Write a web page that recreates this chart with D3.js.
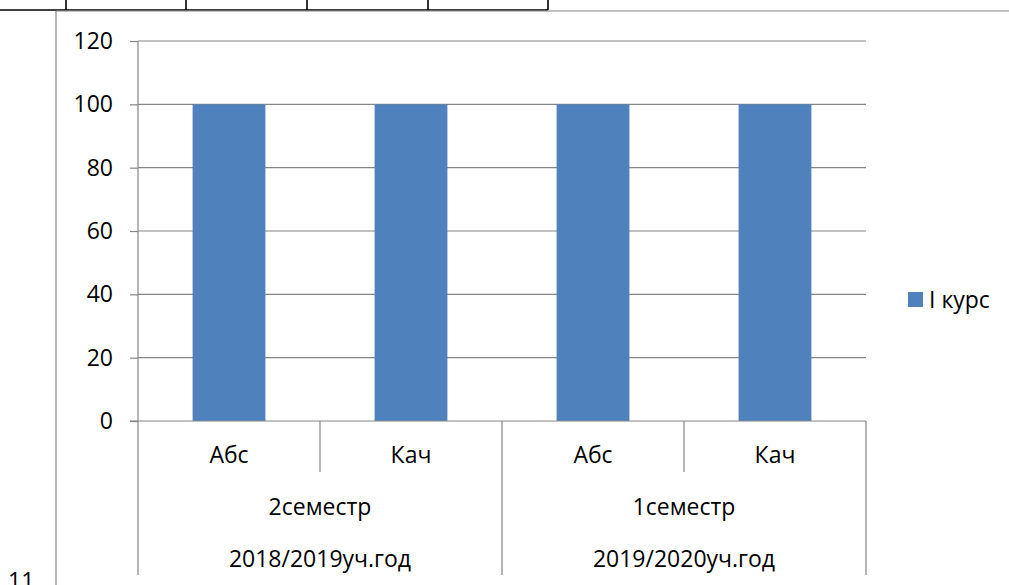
<!DOCTYPE html>
<html><head><meta charset="utf-8">
<script src="https://cdn.jsdelivr.net/npm/d3@7"></script>
<style>body{margin:0;background:#fff;} svg{display:block;} text{font-family:"Open Sans",sans-serif;fill:#000;}</style>
</head><body><svg id="c" width="1009" height="585"></svg>
<script>
const categories = ["Абс", "Кач", "Абс", "Кач"];
const semesters = ["2семестр", "1семестр"];
const years = ["2018/2019уч.год", "2019/2020уч.год"];
const seriesName = "I курс";
const values = [100, 100, 100, 100];
const yTicks = [0, 20, 40, 60, 80, 100, 120];

(function () {
const svg = d3.select("#c");
const grey = "#868686";
const fs = 23;

// page fragments: table above and chart frame
const tableCols = [66, 186, 307, 428, 548];
svg.append("line").attr("x1", 0).attr("x2", 548).attr("y1", 10).attr("y2", 10).attr("stroke", "#000").attr("stroke-width", 1.6);
tableCols.forEach(x => svg.append("line").attr("x1", x).attr("x2", x).attr("y1", 0).attr("y2", 10).attr("stroke", "#000").attr("stroke-width", 1.6));
svg.append("line").attr("x1", 56).attr("x2", 1009).attr("y1", 11).attr("y2", 11).attr("stroke", grey).attr("stroke-width", 1.2);
svg.append("line").attr("x1", 56).attr("x2", 56).attr("y1", 11).attr("y2", 585).attr("stroke", grey).attr("stroke-width", 1.2);
svg.append("text").attr("x", 8).attr("y", 589).attr("font-size", fs).text("11");

const pLeft = 138, pRight = 866, pTop = 41, pBottom = 421;
const x = d3.scaleBand().domain(d3.range(categories.length)).range([pLeft, pRight]).paddingInner(0.6).paddingOuter(0.3);
const y = d3.scaleLinear().domain([0, 120]).range([pBottom, pTop]);

// gridlines
svg.append("g").selectAll("line").data(yTicks.filter(d => d > 0)).join("line")
  .attr("x1", pLeft).attr("x2", pRight).attr("y1", d => y(d)).attr("y2", d => y(d))
  .attr("stroke", grey).attr("stroke-width", 1.2);

// y axis
const ya = svg.append("g").attr("transform", `translate(${pLeft},0)`)
  .call(d3.axisLeft(y).tickValues(yTicks).tickSize(8).tickPadding(17).tickFormat(d3.format("d")));
ya.select(".domain").attr("stroke", grey).attr("stroke-width", 1.2).attr("d", `M0,${pTop}V${pBottom}`);
ya.selectAll(".tick line").attr("stroke", grey).attr("stroke-width", 1.2);
ya.selectAll(".tick text").attr("font-size", fs).attr("font-family", "Open Sans").attr("fill", "#000");

// bars
svg.append("g").selectAll("rect").data(values).join("rect")
  .attr("x", (d, i) => x(i)).attr("width", x.bandwidth())
  .attr("y", d => y(d)).attr("height", d => y(0) - y(d))
  .attr("fill", "#4f81bd");

// x axis baseline
svg.append("line").attr("x1", pLeft - 8).attr("x2", pRight).attr("y1", pBottom).attr("y2", pBottom).attr("stroke", grey).attr("stroke-width", 1.2);

const step = x.step();
const edge = i => pLeft + i * step;
const row1 = 472, row3 = 575;
d3.range(categories.length + 1).forEach(i => {
  const full = i % 2 === 0;
  svg.append("line").attr("x1", edge(i)).attr("x2", edge(i)).attr("y1", pBottom).attr("y2", full ? row3 : row1)
    .attr("stroke", grey).attr("stroke-width", 1.2);
});

// labels
svg.append("g").selectAll("text").data(categories).join("text")
  .attr("x", (d, i) => x(i) + x.bandwidth() / 2).attr("y", 455).attr("dy", "0.35em")
  .attr("text-anchor", "middle").attr("font-size", fs).text(d => d);
svg.append("g").selectAll("text").data(semesters).join("text")
  .attr("x", (d, i) => edge(i * 2 + 1)).attr("y", 507).attr("dy", "0.35em")
  .attr("text-anchor", "middle").attr("font-size", fs).text(d => d);
svg.append("g").selectAll("text").data(years).join("text")
  .attr("x", (d, i) => edge(i * 2 + 1)).attr("y", 559).attr("dy", "0.35em")
  .attr("text-anchor", "middle").attr("font-size", fs).text(d => d);

// legend
svg.append("rect").attr("x", 908).attr("y", 292).attr("width", 15).attr("height", 15).attr("fill", "#4f81bd");
svg.append("text").attr("x", 929).attr("y", 300).attr("dy", "0.35em").attr("font-size", fs).text(seriesName);
})();
</script></body></html>
